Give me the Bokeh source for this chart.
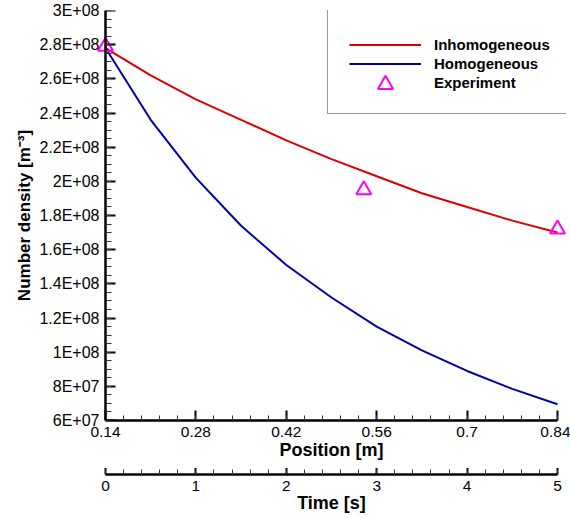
import numpy as np
from bokeh.plotting import figure
from bokeh.layouts import column
from bokeh.models import Range1d, FixedTicker, Legend, LegendItem, LinearAxis
from bokeh.embed import file_html
from bokeh.resources import INLINE

# ---------------- data ----------------
position = [0.14, 0.21, 0.28, 0.35, 0.42, 0.49, 0.56, 0.63, 0.70, 0.77, 0.84]
inhomogeneous = [2.78e8, 2.62e8, 2.48e8, 2.36e8, 2.24e8, 2.13e8, 2.03e8,
                 1.93e8, 1.85e8, 1.77e8, 1.70e8]
homogeneous = [2.78e8, 2.36e8, 2.02e8, 1.74e8, 1.51e8, 1.32e8, 1.15e8,
               1.01e8, 0.89e8, 0.785e8, 0.695e8]
exp_position = [0.14, 0.54, 0.84]
exp_density = [2.79e8, 1.95e8, 1.72e8]

x_ticks = [0.14, 0.28, 0.42, 0.56, 0.70, 0.84]
x_tick_labels = ["0.14", "0.28", "0.42", "0.56", "0.7", "0.84"]
y_ticks = [6e7, 8e7, 1e8, 1.2e8, 1.4e8, 1.6e8, 1.8e8, 2e8, 2.2e8, 2.4e8,
           2.6e8, 2.8e8, 3e8]
y_tick_labels = ["6E+07", "8E+07", "1E+08", "1.2E+08", "1.4E+08", "1.6E+08",
                 "1.8E+08", "2E+08", "2.2E+08", "2.4E+08", "2.6E+08",
                 "2.8E+08", "3E+08"]
time_ticks = [0, 1, 2, 3, 4, 5]
time_tick_labels = ["0", "1", "2", "3", "4", "5"]

# ---------------- layout constants ----------------
FONT = "Liberation Sans"
AXIS_W, FRAME_H = 452, 410          # pixel length of the x axis / frame height
LEFT, RIGHT, TOP = 105, 13, 10      # axis origin offsets inside the canvas
PAD = 9                              # frame overhang so edge markers are not cut
x0, x1 = x_ticks[0], x_ticks[-1]
y0, y1 = y_ticks[0], y_ticks[-1]
t0, t1 = time_ticks[0], time_ticks[-1]
xpad = PAD * (x1 - x0) / AXIS_W
tpad = PAD * (t1 - t0) / AXIS_W
frame_left = LEFT - PAD


def style_axis(ax, minor_len, label_size="15.5px"):
    ax.axis_line_width = 2.5
    ax.axis_line_color = "black"
    ax.major_tick_in = 10
    ax.major_tick_out = 0
    ax.minor_tick_in = minor_len
    ax.minor_tick_out = 0
    ax.major_tick_line_width = 2
    ax.major_tick_line_color = "black"
    ax.minor_tick_line_width = 1
    ax.minor_tick_line_color = "#333333"
    ax.major_label_text_font = FONT
    ax.major_label_text_font_size = label_size
    ax.major_label_text_color = "black"
    ax.axis_label_text_font = FONT
    ax.axis_label_text_font_style = "bold"
    ax.axis_label_text_font_size = "18px"
    ax.axis_label_text_color = "black"


def clean(fig):
    fig.outline_line_color = None
    fig.xgrid.visible = False
    fig.ygrid.visible = False
    fig.background_fill_color = "white"
    fig.border_fill_color = "white"


# ---------------- main figure ----------------
p = figure(frame_width=AXIS_W + 2 * PAD, frame_height=FRAME_H,
           min_border_left=frame_left, min_border_right=RIGHT - PAD,
           min_border_top=TOP, min_border_bottom=48,
           x_range=Range1d(x0 - xpad, x1 + xpad), y_range=Range1d(y0, y1),
           output_backend="svg", toolbar_location=None)
clean(p)

xa = p.xaxis[0]
xa.ticker = FixedTicker(ticks=x_ticks,
                        minor_ticks=list(np.linspace(x0, x1, 26)))
xa.major_label_overrides = dict(zip(x_ticks, x_tick_labels))
xa.bounds = (x0, x1)
xa.axis_label = "Position [m]"
xa.major_label_standoff = 6
xa.axis_label_standoff = 0
style_axis(xa, 5)

# y axis labels (default axis at the frame edge, line and ticks hidden)
ya = p.yaxis[0]
ya.ticker = FixedTicker(ticks=y_ticks)
ya.major_label_overrides = dict(zip(y_ticks, y_tick_labels))
ya.axis_label = "Number density [m\u207b\u00b3]"
ya.major_label_standoff = 6 - PAD
ya.axis_label_standoff = 2
style_axis(ya, 6, "16px")
ya.axis_label_text_font_size = "17px"
ya.axis_line_color = None
ya.major_tick_line_color = None
ya.minor_tick_line_color = None

# y axis line and ticks drawn exactly at the first x tick (no labels)
ya_line = LinearAxis(fixed_location=x0,
                     ticker=FixedTicker(ticks=y_ticks,
                                        minor_ticks=list(np.linspace(y0, y1, 49))))
style_axis(ya_line, 6)
ya_line.major_label_overrides = {t: "" for t in y_ticks}
ya_line.major_label_standoff = 0
p.add_layout(ya_line, "left")

r_inh = p.line(position, inhomogeneous, line_color="#dd0000", line_width=2)
r_hom = p.line(position, homogeneous, line_color="#0000aa", line_width=2)
r_exp = p.scatter(exp_position, exp_density, marker="triangle", size=15,
                  line_color="#ff00ff", fill_color=None, line_width=2)
# invisible stand-in so the boxed legend keeps a row for "Experiment"
r_exp_key = p.scatter([], [], marker="triangle", line_alpha=0, fill_alpha=0)

legend_box = Legend(
    items=[LegendItem(label="Inhomogeneous", renderers=[r_inh]),
           LegendItem(label="Homogeneous", renderers=[r_hom]),
           LegendItem(label="Experiment", renderers=[r_exp_key])],
    location=(327 - frame_left, 306), padding=21, spacing=0,
    glyph_width=72, glyph_height=19, label_height=19, label_width=160,
    label_standoff=13,
    label_text_font=FONT, label_text_font_style="bold",
    label_text_font_size="15px", label_text_color="black",
    border_line_color="#333333", border_line_width=1.5,
    background_fill_color="white", background_fill_alpha=1.0,
    title=" ", title_text_font_size="3px", title_standoff=0,
)
p.add_layout(legend_box)

legend_marker = Legend(
    items=[LegendItem(label=" ", renderers=[r_exp])],
    location=(366 - frame_left, 317), padding=0, spacing=0,
    glyph_width=38, glyph_height=38, label_height=38, label_width=1,
    label_standoff=0, label_text_font_size="1px",
    border_line_color=None, background_fill_alpha=0.0,
)
p.add_layout(legend_marker)

# ---------------- time axis strip (same frame geometry as the main plot) ----
p2 = figure(frame_width=AXIS_W + 2 * PAD, frame_height=6,
            min_border_left=frame_left, min_border_right=RIGHT - PAD,
            min_border_top=0, min_border_bottom=42,
            x_range=Range1d(t0 - tpad, t1 + tpad), y_range=Range1d(0, 1),
            y_axis_location=None,
            output_backend="svg", toolbar_location=None)
clean(p2)
ta = p2.xaxis[0]
ta.ticker = FixedTicker(ticks=time_ticks,
                        minor_ticks=list(np.linspace(t0, t1, 26)))
ta.major_label_overrides = dict(zip(time_ticks, time_tick_labels))
ta.bounds = (t0, t1)
ta.axis_label = "Time [s]"
ta.major_label_standoff = 6
ta.axis_label_standoff = -1
style_axis(ta, 5)

layout = column(p, p2, spacing=0)
open("out.html", "w").write(file_html(layout, INLINE))
